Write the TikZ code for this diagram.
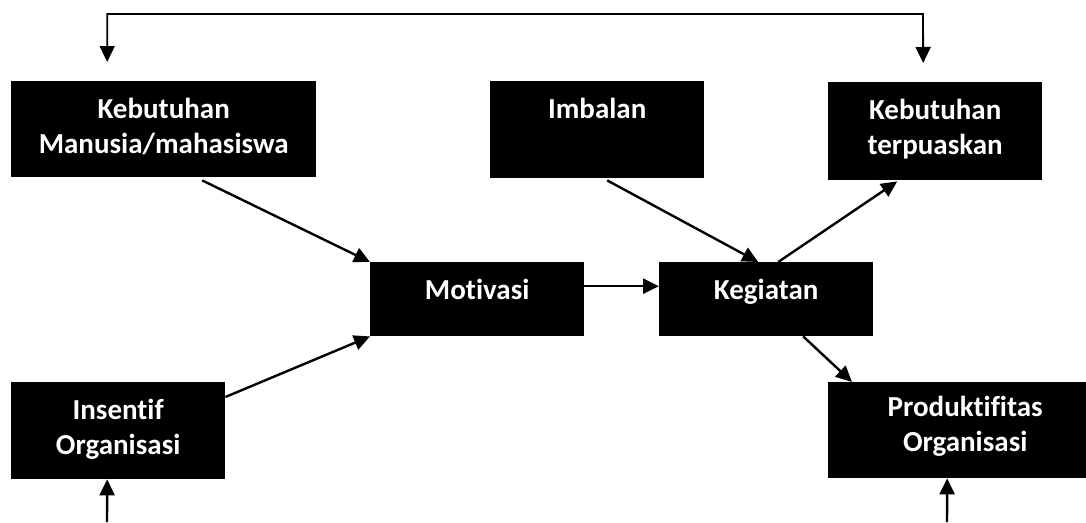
\documentclass[tikz,border=0pt]{standalone}
\usepackage{fontspec}
\setmainfont{Carlito}[Ligatures=NoCommon]
\usepackage{tikz}
\usetikzlibrary{arrows.meta}
\tikzset{
    every node/.style={font=\fontsize{29}{35}\selectfont\bfseries},
    box/.style={fill=black, text=white, anchor=north west, align=center, inner xsep=0pt, inner ysep=0pt, minimum width=214pt, text height=37pt, text depth=59pt},
    twoline/.style={text height=72pt, text depth=24pt},
    flow/.style={-{Triangle[length=16pt,width=15pt]}, line width=2.4pt}
}

\begin{document}
\begin{tikzpicture}[x=1pt, y=-1pt]
        \clip (0,0) rectangle (1086,522);
        \node[box, twoline, minimum width=305pt] (butuh) at (11,81) {Kebutuhan\\Manusia/mahasiswa};
        \node[box, text depth=60pt] (imbalan) at (490,81) {Imbalan};
        \node[box, twoline, text depth=26pt] (puas) at (828,82) {Kebutuhan\\terpuaskan};
        \node[box, text depth=37pt] (motivasi) at (370,262) {Motivasi};
        \node[box, text depth=37pt] (kegiatan) at (659,262) {Kegiatan};
        \node[box, twoline, text depth=25pt] (insentif) at (11,382) {Insentif\\Organisasi};
        \node[box, minimum width=274pt, text height=69pt, text depth=27pt] (produktif) at (828,382) {Produktifitas\\Organisasi};
        \coordinate (balik) at (923,14);
        \coordinate (bawahkiri) at (107,522);
        \coordinate (bawahkanan) at (947,522);

        \draw[flow] ([xshift=38.5pt,yshift=-3pt]butuh.south) -- (motivasi.north west);
        \draw[flow] ([yshift=-15pt]insentif.north east) -- (motivasi.south west);
        \draw[flow] ([yshift=13pt]motivasi.east) -- ([yshift=13pt]kegiatan.west);
        \draw[flow] ([xshift=10pt,yshift=-2pt]imbalan.south) -- ([xshift=-8pt]kegiatan.north);
        \draw[flow] ([xshift=12pt]kegiatan.north) -- ([xshift=-38pt,yshift=-1pt]puas.south);
        \draw[flow] ([xshift=37pt]kegiatan.south) -- ([xshift=24pt]produktif.north west);
        \draw[flow] (bawahkiri) -- ([xshift=-11pt]insentif.south);
        \draw[flow] (bawahkanan) -- ([xshift=-18pt]produktif.south);
        \draw[flow, {Triangle[length=16pt,width=15pt]}-{Triangle[length=16pt,width=15pt]}, line width=1.8pt] ([xshift=-56.5pt,yshift=19pt]butuh.north) |- (balik) -- ([xshift=-12pt,yshift=19pt]puas.north);
    \end{tikzpicture}
\end{document}
